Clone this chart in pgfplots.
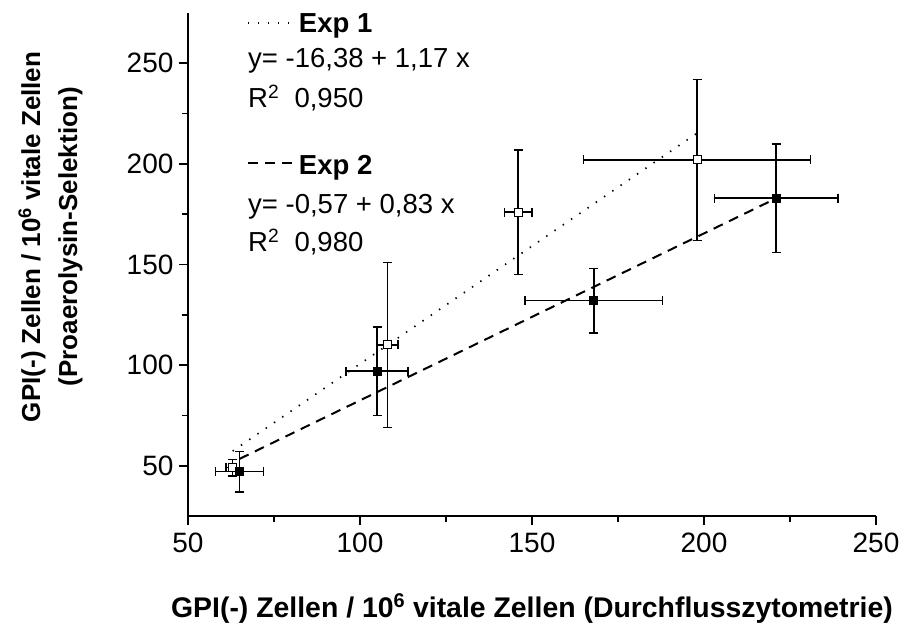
\documentclass[border=0pt]{standalone}
\usepackage{pgfplots}
\pgfplotsset{compat=1.18}
\usepackage{fontspec}
\setmainfont{Liberation Sans}
\begin{document}
\begin{tikzpicture}
\begin{axis}[
  scale only axis,
  width=688pt, height=503pt,
  xmin=50, xmax=250, ymin=25, ymax=275,
  xtick={50,100,...,250}, ytick={50,100,...,250},
  minor x tick num=1, minor y tick num=1,
  axis lines=left,
  axis line style={-, line width=1.7pt},
  tick style={black, line width=1.7pt},
  tick align=outside,
  major tick length=9pt, minor tick length=6pt,
  /pgf/number format/assume math mode=true,
  ticklabel style={font=\fontsize{28}{32}\selectfont},
  xticklabel style={yshift=-4pt},
  yticklabel style={xshift=-2pt},
  xlabel={\bfseries GPI(-) Zellen / 10\textsuperscript{6} vitale Zellen (Durchflusszytometrie)},
  ylabel={\bfseries GPI(-) Zellen / 10\textsuperscript{6} vitale Zellen\\\bfseries(Proaerolysin-Selektion)},
  xlabel style={font=\fontsize{28.4}{32}\selectfont, at={(axis description cs:0.5,-0.2008)}, anchor=base, inner sep=0pt},
  ylabel style={font=\fontsize{26}{37}\selectfont, align=center, at={(axis description cs:-0.2,0.555)}, anchor=center},
  clip=false,
]
% Exp 1 regression (dotted)
\addplot[black, line width=1.7pt, dash pattern=on 1.4pt off 8.6pt] coordinates {(63,57.3) (198,215.3)};
% Exp 2 regression (dashed)
\addplot[black, line width=2pt, dash pattern=on 10pt off 7pt] coordinates {(65,53.4) (221,182.9)};
% Exp 1 (open squares)
\addplot[black, line width=1.5pt, only marks, mark=square*, mark size=4pt, mark options={fill=white, line width=1pt},
  error bars/x dir=both, error bars/x explicit, error bars/y dir=both, error bars/y explicit,
  error bars/error mark=-,
  error bars/error bar style={line width=1.5pt},
  error bars/error mark options={rotate=90, mark size=4.5pt, line width=1.5pt}]
  table[x=x, y=y, x error=ex, y error=ey] {
x y ex ey
63 49 2 4
108 110 3 41
146 176 4 31
198 202 33 40
};
% Exp 2 (filled squares)
\addplot[black, line width=1.5pt, only marks, mark=square*, mark size=4pt, mark options={fill=black, line width=1pt},
  error bars/x dir=both, error bars/x explicit, error bars/y dir=both, error bars/y explicit,
  error bars/error mark=-,
  error bars/error bar style={line width=1.5pt},
  error bars/error mark options={rotate=90, mark size=4.5pt, line width=1.5pt}]
  table[x=x, y=y, x error=ex, y error=ey] {
x y ex ey
65 47 7 10
105 97 9 22
168 132 20 16
221 183 18 27
};
% legend
\draw[black, line width=1.7pt, dash pattern=on 1.4pt off 8.6pt] (rel axis cs:0.0872,0.980) -- (rel axis cs:0.155,0.980);
\draw[black, line width=2pt, dash pattern=on 10pt off 7pt] (rel axis cs:0.0872,0.702) -- (rel axis cs:0.157,0.702);
\node[anchor=base west, inner sep=0pt, font=\fontsize{27.5}{32}\selectfont\bfseries] at (rel axis cs:0.161,0.962) {Exp 1};
\node[anchor=base west, inner sep=0pt, font=\fontsize{27.5}{32}\selectfont] at (rel axis cs:0.0872,0.891) {y= -16,38 + 1,17 x};
\node[anchor=base west, inner sep=0pt, font=\fontsize{27.5}{32}\selectfont] at (rel axis cs:0.0872,0.813) {R\textsuperscript{2}\ \ 0,950};
\node[anchor=base west, inner sep=0pt, font=\fontsize{27.5}{32}\selectfont\bfseries] at (rel axis cs:0.161,0.678) {Exp 2};
\node[anchor=base west, inner sep=0pt, font=\fontsize{27.5}{32}\selectfont] at (rel axis cs:0.0872,0.602) {y= -0,57 + 0,83 x};
\node[anchor=base west, inner sep=0pt, font=\fontsize{27.5}{32}\selectfont] at (rel axis cs:0.0872,0.525) {R\textsuperscript{2}\ \ 0,980};
\end{axis}
\pgfresetboundingbox
\path (-188pt,-106pt) rectangle (712pt,516pt);
\end{tikzpicture}
\end{document}
